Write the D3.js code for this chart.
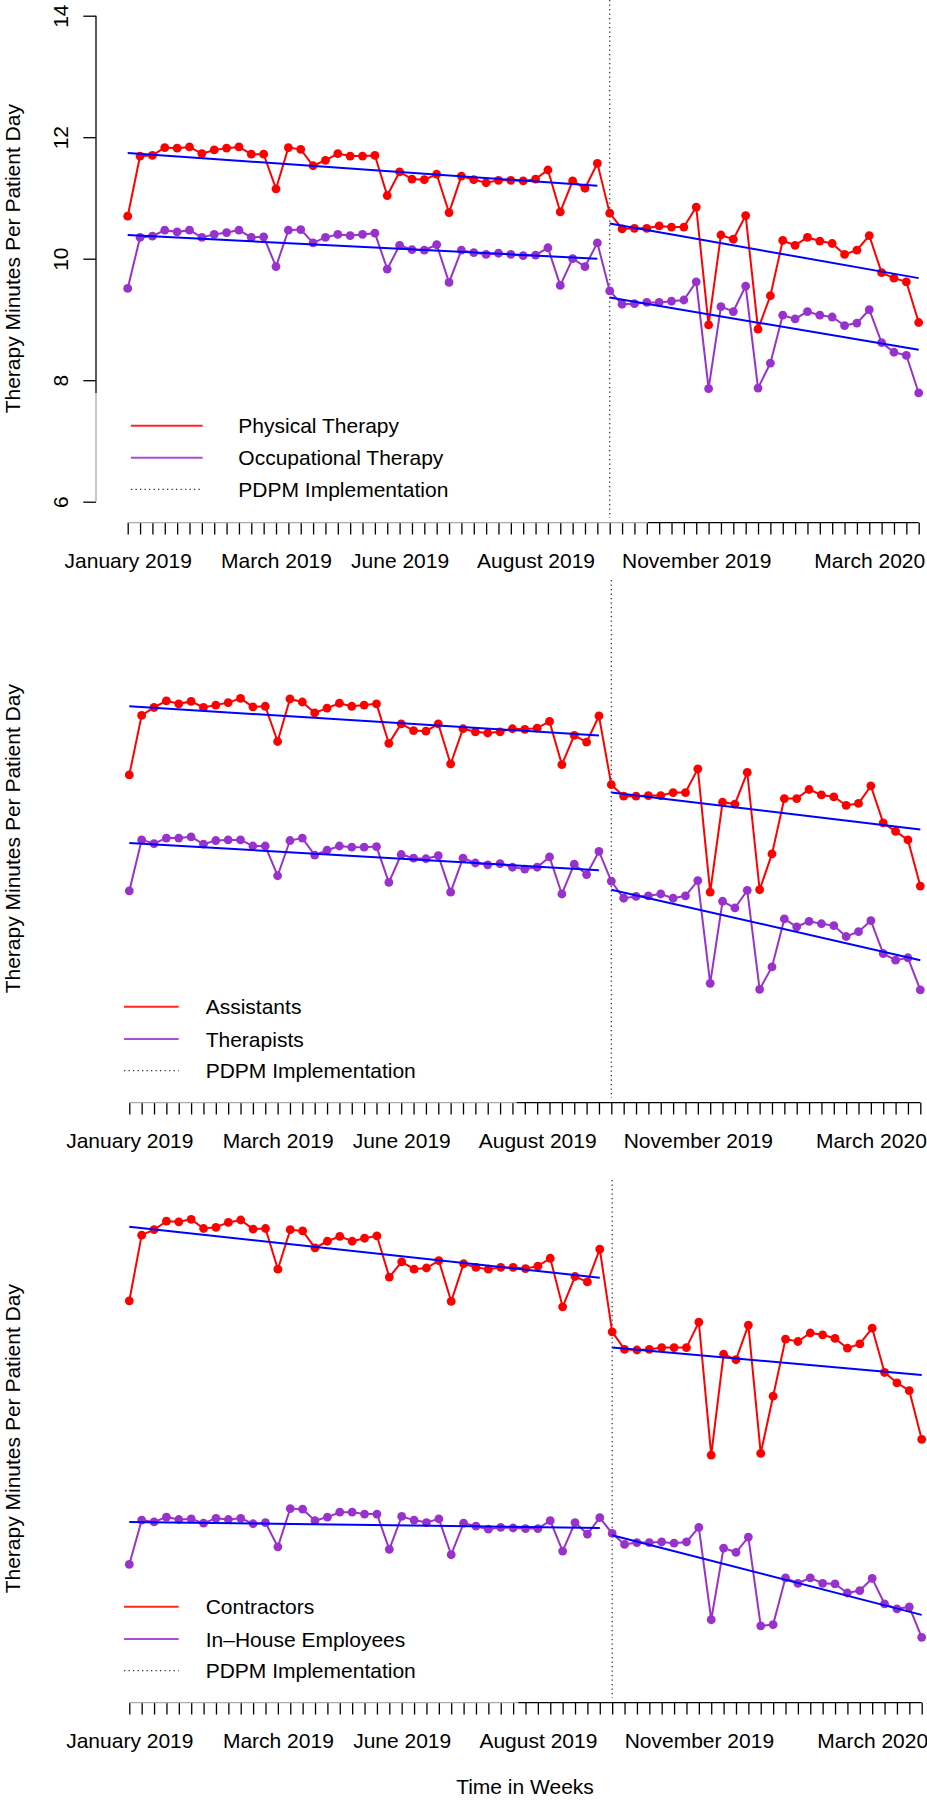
<!DOCTYPE html>
<html><head><meta charset="utf-8">
<script src="https://cdn.jsdelivr.net/npm/d3@7"></script>
<style>
body{margin:0;background:#fff}
svg{display:block}
text{font-family:"Liberation Sans",Arial,Helvetica,sans-serif;fill:#000}
</style>
</head><body>
<svg id="chart" width="927" height="1800"></svg>
<script>
// ---------- data ----------
const weeks = d3.range(0, 65);           // week index, Jan 2019 .. Mar 2020
const pdpmWeek = 39;                      // PDPM implementation (Oct 2019)
const tickLabelWeeks = [0, 12, 22, 33, 46, 60];
const tickLabelTexts = ["January 2019", "March 2019", "June 2019", "August 2019", "November 2019", "March 2020"];
const yTicks = [6, 8, 10, 12, 14];
const yLabel = "Therapy Minutes Per Patient Day";
const xLabel = "Time in Weeks";

const ptValues = [10.70,11.69,11.70,11.83,11.82,11.84,11.73,11.79,11.82,11.84,11.72,11.72,11.15,11.83,11.80,11.53,11.62,11.73,11.69,11.69,11.70,11.04,11.43,11.31,11.30,11.39,10.76,11.36,11.30,11.25,11.29,11.29,11.28,11.31,11.46,10.77,11.28,11.16,11.57,10.75,10.49,10.50,10.50,10.54,10.52,10.52,10.85,8.91,10.39,10.32,10.71,8.84,9.39,10.30,10.22,10.35,10.29,10.25,10.07,10.14,10.38,9.77,9.68,9.62,8.95];
const otValues = [9.51,10.35,10.37,10.47,10.44,10.47,10.35,10.40,10.43,10.47,10.35,10.36,9.87,10.47,10.48,10.26,10.35,10.40,10.38,10.40,10.42,9.83,10.22,10.15,10.14,10.23,9.61,10.14,10.10,10.07,10.09,10.07,10.05,10.06,10.18,9.56,10.00,9.87,10.26,9.47,9.25,9.26,9.28,9.28,9.30,9.32,9.62,7.86,9.21,9.13,9.55,7.87,8.28,9.07,9.01,9.13,9.07,9.04,8.90,8.94,9.16,8.62,8.46,8.41,7.79];
const assistantsValues = [11.05,12.03,12.16,12.27,12.22,12.26,12.16,12.20,12.24,12.31,12.17,12.18,11.60,12.30,12.25,12.07,12.15,12.23,12.18,12.20,12.22,11.57,11.89,11.78,11.77,11.89,11.23,11.81,11.76,11.74,11.76,11.81,11.80,11.82,11.93,11.22,11.70,11.59,12.02,10.89,10.70,10.70,10.71,10.71,10.76,10.76,11.15,9.12,10.60,10.57,11.09,9.16,9.75,10.66,10.66,10.81,10.72,10.69,10.55,10.58,10.87,10.26,10.12,9.98,9.22];
const therapistsValues = [9.14,9.98,9.92,10.01,10.01,10.03,9.91,9.97,9.98,9.98,9.88,9.88,9.39,9.97,10.01,9.73,9.81,9.88,9.86,9.86,9.87,9.28,9.74,9.68,9.67,9.72,9.12,9.68,9.60,9.57,9.59,9.53,9.50,9.53,9.70,9.09,9.58,9.41,9.79,9.30,9.02,9.05,9.06,9.09,9.02,9.06,9.31,7.62,8.97,8.86,9.15,7.52,7.89,8.68,8.55,8.64,8.60,8.57,8.39,8.47,8.65,8.11,8.00,8.04,7.51];
const contractorsValues = [12.27,13.35,13.44,13.58,13.57,13.61,13.46,13.48,13.56,13.60,13.45,13.46,12.79,13.44,13.42,13.14,13.25,13.33,13.25,13.30,13.34,12.66,12.91,12.79,12.81,12.93,12.26,12.88,12.82,12.79,12.82,12.82,12.80,12.84,12.97,12.17,12.67,12.58,13.12,11.76,11.47,11.46,11.47,11.50,11.50,11.50,11.92,9.73,11.39,11.30,11.87,9.76,10.70,11.64,11.60,11.74,11.71,11.65,11.49,11.56,11.82,11.09,10.92,10.79,9.99];
const inHouseValues = [7.93,8.66,8.63,8.71,8.67,8.68,8.61,8.69,8.67,8.69,8.60,8.62,8.22,8.85,8.84,8.65,8.71,8.79,8.79,8.76,8.76,8.18,8.72,8.66,8.62,8.68,8.09,8.61,8.56,8.51,8.54,8.53,8.52,8.52,8.65,8.15,8.62,8.43,8.70,8.44,8.26,8.29,8.29,8.30,8.28,8.30,8.54,7.02,8.20,8.13,8.38,6.92,6.94,7.71,7.62,7.71,7.62,7.61,7.46,7.50,7.70,7.28,7.20,7.23,6.73];

// fitted trend values: [pre start, pre end, post start, post end]
const trendWeeks = [0, 38, 39, 64];
const ptTrend = [11.74, 11.20, 10.58, 9.68];
const otTrend = [10.39, 10.00, 9.36, 8.50];
const assistantsTrend = [12.18, 11.70, 10.76, 10.15];
const therapistsTrend = [9.93, 9.48, 9.16, 8.00];
const contractorsTrend = [13.49, 12.65, 11.50, 11.05];
const inHouseTrend = [8.63, 8.53, 8.41, 7.10];

const legend1 = ["Physical Therapy", "Occupational Therapy", "PDPM Implementation"];
const legend2 = ["Assistants", "Therapists", "PDPM Implementation"];
const legend3 = ["Contractors", "In\u2013House Employees", "PDPM Implementation"];

// ---------- layout / style ----------
const RED = "#ff0000", PURPLE = "#9932cc", BLUE = "#0000ff", GREY = "#aaaaaa";
const FONT = 21;

const panels = [
  {off: 0,    x0: 127.7, x1: 918.7, red: ptValues, purple: otValues, redT: ptTrend, purpleT: otTrend,
   legend: legend1, lx1: 131, lx2: 202.7, tx: 238.3, ly: [425.7, 457.7, 489.3], yAxis: true, greyTo: 648},
  {off: 580,  x0: 129.3, x1: 920.3, red: assistantsValues, purple: therapistsValues, redT: assistantsTrend, purpleT: therapistsTrend,
   legend: legend2, lx1: 124, lx2: 178.7, tx: 205.7, ly: [426.7, 459, 490.7], yAxis: false, greyTo: 516.7},
  {off: 1180, x0: 129.3, x1: 921.7, red: contractorsValues, purple: inHouseValues, redT: contractorsTrend, purpleT: inHouseTrend,
   legend: legend3, lx1: 124, lx2: 178.7, tx: 205.7, ly: [426.7, 459, 490.7], yAxis: false, greyTo: 518.3}
];

const svg = d3.select("#chart");

panels.forEach(p => {
  const g = svg.append("g").attr("transform", `translate(0,${p.off})`);
  const x = d3.scaleLinear().domain([0, 64]).range([p.x0, p.x1]);
  const y = d3.scaleLinear().domain([6, 14]).range([501.7, 15.7]);
  const axisY = 522.7;

  // y axis title
  g.append("text")
    .attr("transform", `translate(19.5,${(y(6) + y(14)) / 2}) rotate(-90)`)
    .attr("text-anchor", "middle")
    .style("font-size", FONT + "px")
    .text(yLabel);

  // y axis (panel 1 only)
  if (p.yAxis) {
    const ya = g.append("g").attr("transform", "translate(96,0)")
      .call(d3.axisLeft(y).tickValues(yTicks).tickSize(12.7).tickSizeOuter(0).tickFormat(d3.format("d")));
    ya.select(".domain").remove();
    ya.selectAll(".tick line").attr("stroke", "#000").attr("stroke-width", 1.3);
    ya.selectAll(".tick text")
      .attr("transform", "rotate(-90)")
      .attr("x", 0).attr("y", -28).attr("dy", null)
      .attr("text-anchor", "middle")
      .style("font-size", FONT + "px")
      .style("font-family", '"Liberation Sans",Arial,Helvetica,sans-serif');
    ya.append("line").attr("x1", 0).attr("x2", 0).attr("y1", y(14)).attr("y2", 393)
      .attr("stroke", "#000").attr("stroke-width", 1.3);
    ya.append("line").attr("x1", 0).attr("x2", 0).attr("y1", 393).attr("y2", y(6))
      .attr("stroke", GREY).attr("stroke-width", 1.3);
  }

  // x axis
  const labelMap = new Map(tickLabelWeeks.map((w, i) => [w, tickLabelTexts[i]]));
  const xa = g.append("g").attr("transform", `translate(0,${axisY})`)
    .call(d3.axisBottom(x).tickValues(weeks).tickSize(11.8).tickSizeOuter(0)
      .tickFormat(d => labelMap.get(d) || ""));
  xa.select(".domain").remove();
  xa.selectAll(".tick line").attr("stroke", "#000").attr("stroke-width", 1.3);
  xa.selectAll(".tick text")
    .attr("y", 45).attr("dy", null)
    .style("font-size", FONT + "px")
    .style("font-family", '"Liberation Sans",Arial,Helvetica,sans-serif');
  xa.append("line").attr("x1", x(0)).attr("x2", p.greyTo).attr("y1", 0).attr("y2", 0)
    .attr("stroke", GREY).attr("stroke-width", 1.3);
  xa.append("line").attr("x1", p.greyTo).attr("x2", x(64)).attr("y1", 0).attr("y2", 0)
    .attr("stroke", "#000").attr("stroke-width", 1.3);

  // PDPM vertical dotted line
  g.append("line")
    .attr("x1", x(pdpmWeek)).attr("x2", x(pdpmWeek))
    .attr("y1", 0).attr("y2", 518)
    .attr("stroke", "#222").attr("stroke-width", 1.2)
    .attr("stroke-dasharray", "1.3,3.2");

  // series
  const line = d3.line().x((d, i) => x(weeks[i])).y(d => y(d));
  [[p.red, RED], [p.purple, PURPLE]].forEach(([vals, col]) => {
    g.append("path").datum(vals).attr("d", line)
      .attr("fill", "none").attr("stroke", col).attr("stroke-width", 2);
    g.selectAll(null).data(vals).enter().append("circle")
      .attr("cx", (d, i) => x(weeks[i])).attr("cy", d => y(d))
      .attr("r", 4.4).attr("fill", col);
  });

  // trend lines
  [p.redT, p.purpleT].forEach(t => {
    [[0, 1], [2, 3]].forEach(([a, b]) => {
      g.append("line")
        .attr("x1", x(trendWeeks[a])).attr("y1", y(t[a]))
        .attr("x2", x(trendWeeks[b])).attr("y2", y(t[b]))
        .attr("stroke", BLUE).attr("stroke-width", 2);
    });
  });

  // legend
  const lg = g.append("g");
  const styles = [{c: RED, d: null, w: 2}, {c: PURPLE, d: null, w: 2}, {c: "#333", d: "1.3,3.2", w: 1.2}];
  p.legend.forEach((lab, i) => {
    lg.append("line").attr("x1", p.lx1).attr("x2", p.lx2).attr("y1", p.ly[i]).attr("y2", p.ly[i])
      .attr("stroke", styles[i].c).attr("stroke-width", styles[i].w)
      .attr("stroke-dasharray", styles[i].d).attr("opacity", i < 2 ? 0.85 : 1);
    lg.append("text").attr("x", p.tx).attr("y", p.ly[i] + 7.5)
      .style("font-size", FONT + "px").text(lab);
  });
});

// x axis title
svg.append("text").attr("x", 525).attr("y", 1794)
  .attr("text-anchor", "middle").style("font-size", FONT + "px").text(xLabel);
</script>
</body></html>
